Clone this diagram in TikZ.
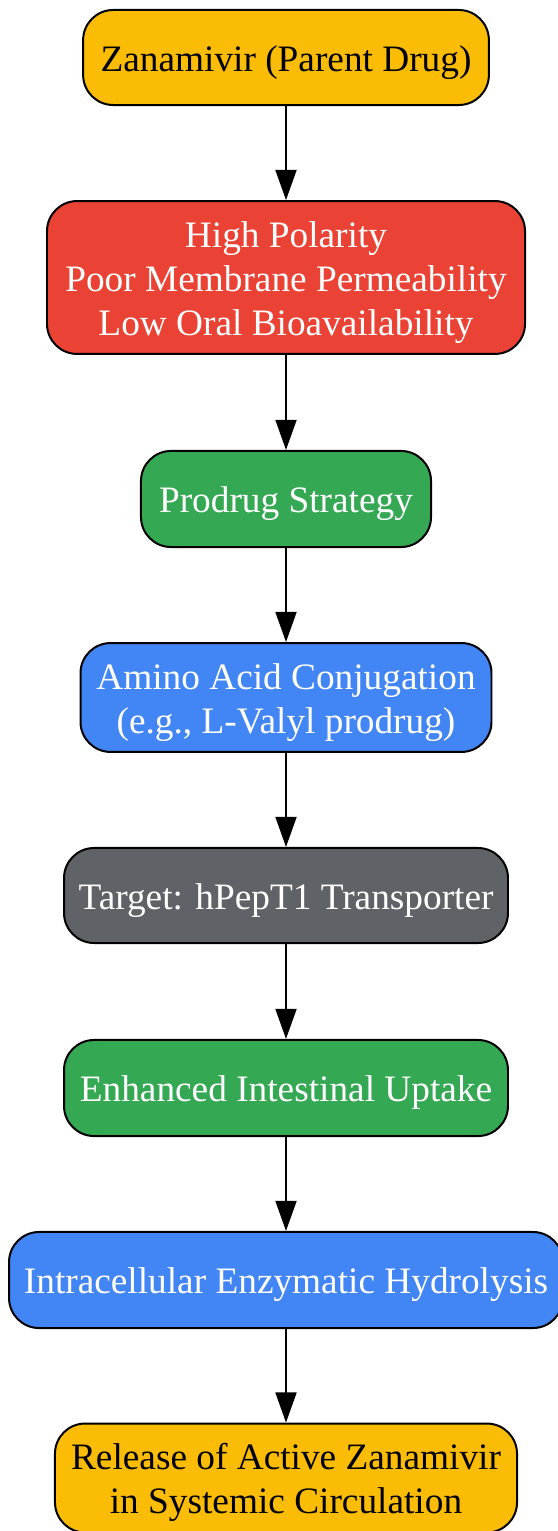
\documentclass[tikz,border=0pt]{standalone}
\usepackage{fontspec}
\setmainfont{Liberation Serif}
\usetikzlibrary{arrows.meta}
\definecolor{gyellow}{HTML}{FBBC05}
\definecolor{gred}{HTML}{EA4335}
\definecolor{ggreen}{HTML}{34A853}
\definecolor{gblue}{HTML}{4285F4}
\definecolor{ggray}{HTML}{5F6368}
% text block, set a little low in its box
\newcommand{\boxtext}[1]{\begin{tabular}{@{}c@{}}\rule{0pt}{15.6pt}#1\end{tabular}}
\tikzset{
	stepbox/.style={draw=black, line width=0.76pt, rounded corners=11.5pt,
		inner sep=0pt, font=\fontsize{14.25}{16.8}\selectfont},
	flow/.style={draw=black, line width=0.76pt, -{Triangle[length=11.5pt, width=8pt]}}
}
\begin{document}
\begin{tikzpicture}[x=0.382pt, y=-0.382pt]
			%%%%% START %%%%%
			\useasboundingbox (0, 0) rectangle (558, 1531);
			
			\node[stepbox, fill=gyellow, minimum width=155pt, minimum height=36.3pt] (parent) at (286, 57.5) {\boxtext{Zanamivir (Parent Drug)}};
			\node[stepbox, fill=gred, text=white, minimum width=182.6pt, minimum height=58.4pt] (problem) at (286, 277.5) {\boxtext{High Polarity\\Poor Membrane Permeability\\Low Oral Bioavailability}};
			\node[stepbox, fill=ggreen, text=white, minimum width=110.8pt, minimum height=36.7pt] (strategy) at (286, 499) {\boxtext{Prodrug Strategy}};
			\node[stepbox, fill=gblue, text=white, minimum width=157pt, minimum height=41.6pt] (conjug) at (286, 697.5) {\boxtext{Amino Acid Conjugation\\(e.g., L-Valyl prodrug)}};
			\node[stepbox, fill=ggray, text=white, minimum width=169.6pt, minimum height=36.3pt] (target) at (286, 895.5) {\boxtext{Target: hPepT1 Transporter}};
			\node[stepbox, fill=ggreen, text=white, minimum width=169.6pt, minimum height=36.7pt] (uptake) at (286, 1088) {\boxtext{Enhanced Intestinal Uptake}};
			\node[stepbox, fill=gblue, text=white, minimum width=211.6pt, minimum height=36.7pt] (hydrol) at (286, 1280) {\boxtext{Intracellular Enzymatic Hydrolysis}};
			\node[stepbox, fill=gyellow, minimum width=176.5pt, minimum height=41.6pt] (release) at (286, 1478) {\boxtext{Release of Active Zanamivir\\in Systemic Circulation}};
			
			\draw[flow] (parent) -- (problem);
			\draw[flow] (problem) -- (strategy);
			\draw[flow] (strategy) -- (conjug);
			\draw[flow] (conjug) -- (target);
			\draw[flow] (target) -- (uptake);
			\draw[flow] (uptake) -- (hydrol);
			\draw[flow] (hydrol) -- (release);
			
			%%%%% END %%%%%
		\end{tikzpicture}
\end{document}
